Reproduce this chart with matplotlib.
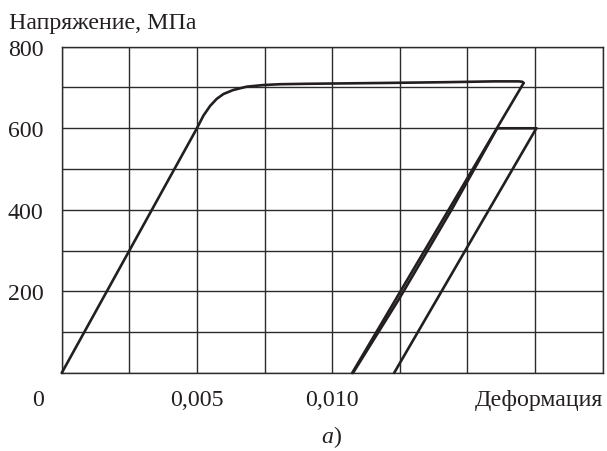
import matplotlib
matplotlib.use("Agg")
import matplotlib.pyplot as plt
import numpy as np

plt.rcParams['font.family'] = ['Liberation Serif', 'DejaVu Serif']

# Loading curve: strain, stress (MPa)
load_strain = [0.0, 0.0050, 0.00524, 0.00549, 0.00573, 0.00598, 0.00635, 0.00684,
               0.00746, 0.00807, 0.0090, 0.0118, 0.0142, 0.0160, 0.01690, 0.01703, 0.01708]
load_stress = [0, 600, 631, 655, 672, 684, 694, 702,
               706, 708, 709, 711, 713, 715, 715, 714, 711]
# First unloading
unload1_strain = [0.01708, 0.01074]
unload1_stress = [711, 0]
# Reloading to 600 and hold
reload_strain = [0.01077, 0.01247, 0.01443, 0.01610, 0.01755]
reload_stress = [0, 181, 402, 600, 600]
# Second unloading
unload2_strain = [0.01755, 0.01229]
unload2_stress = [600, 0]

xgrid = np.arange(0, 0.02001, 0.0025)
ygrid = np.arange(0, 801, 100)
ytick_vals = [200, 400, 600, 800]
ytick_labels = ['200', '400', '600', '800']
xtick_vals = [0.005, 0.010]
xtick_labels = ['0,005', '0,010']

W, H = 607, 452
fig = plt.figure(figsize=(W / 100, H / 100), dpi=100)
ax = fig.add_axes([61.7 / W, 1 - 374 / H, (602.6 - 61.7) / W, (374 - 47.7) / H])
ax.set_xlim(0, 0.02)
ax.set_ylim(0, 800)

gc = '#2b2b2b'
for xv in xgrid:
    ax.axvline(xv, color=gc, lw=1.0, zorder=1)
for yv in ygrid:
    ax.axhline(yv, color=gc, lw=1.0, zorder=1)
for s in ax.spines.values():
    s.set_color(gc)
    s.set_linewidth(1.0)

lc = '#231f20'
lw = 1.9
for xs, ys in [(load_strain, load_stress), (unload1_strain, unload1_stress),
               (reload_strain, reload_stress), (unload2_strain, unload2_stress)]:
    ax.plot(xs, ys, color=lc, lw=lw, solid_joinstyle='round', solid_capstyle='round',
            zorder=3, clip_on=False)

fs = 17.2
ax.set_xticks(xtick_vals)
ax.set_yticks(ytick_vals)
ax.set_yticklabels(ytick_labels)
ax.set_xticklabels([''] * len(xtick_vals))
ax.tick_params(length=0, labelsize=fs, colors='#231f20')
ax.tick_params(axis='y', pad=13)

base_y = 1 - 406.5 / H
for xv, lab in zip(xtick_vals, xtick_labels):
    ax.text(xv, base_y, lab, transform=ax.get_xaxis_transform() if False else
            matplotlib.transforms.blended_transform_factory(ax.transData, fig.transFigure),
            fontsize=fs, ha='center', va='baseline', color='#231f20')

fig.text(38 / W, base_y, '0', fontsize=fs, ha='center', va='baseline', color='#231f20')
fig.text(603 / W, base_y, 'Деформация', fontsize=fs, ha='right', va='baseline', color='#231f20')
fig.text(9 / W, 1 - 29 / H, 'Напряжение, МПа', fontsize=fs, ha='left', va='baseline', color='#231f20')
fig.text(333 / W, 1 - 443 / H, 'а', fontsize=fs, ha='right', va='baseline', style='italic', color='#231f20')
fig.text(333 / W, 1 - 443 / H, ')', fontsize=fs, ha='left', va='baseline', color='#231f20')

fig.savefig('out.png', dpi=100)
